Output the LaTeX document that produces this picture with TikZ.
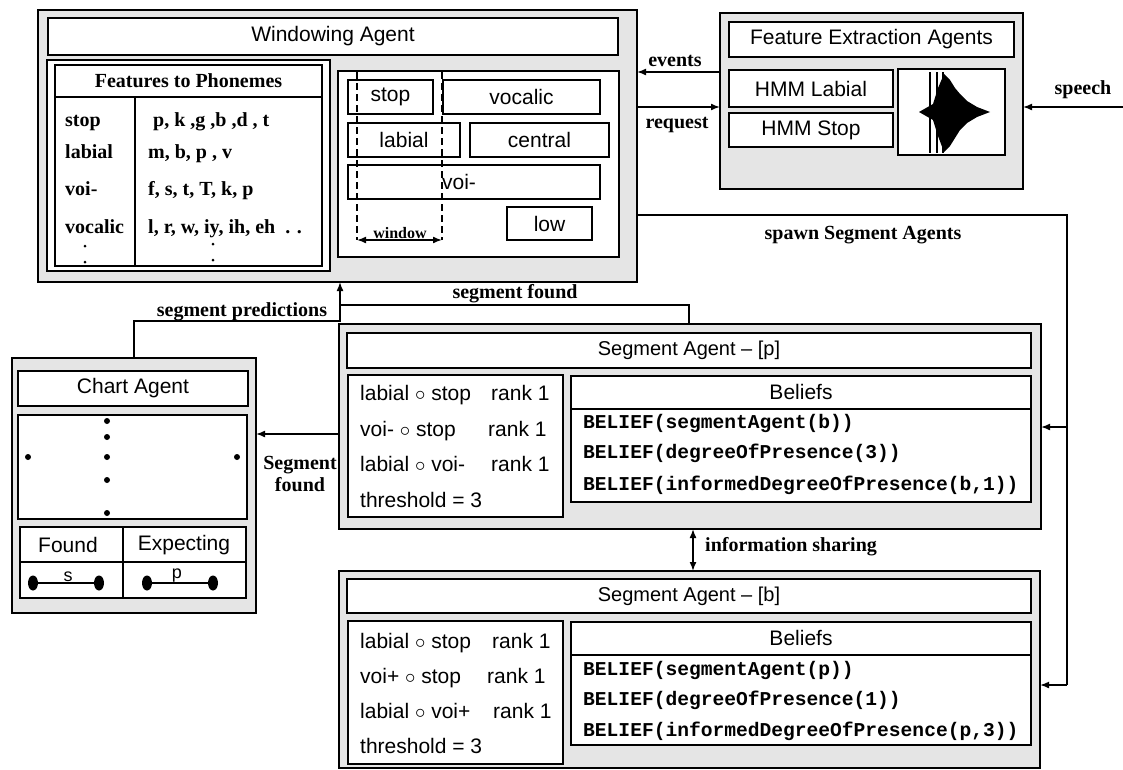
\documentclass[tikz,border=0pt]{standalone}
\usepackage{fontspec}
\setmainfont{Liberation Serif}
\setsansfont{Liberation Sans}
\setmonofont{Liberation Mono}
\usetikzlibrary{arrows.meta,calc,shapes.geometric}
\newcommand\mkbox[7][]{%
  \pgfmathsetmacro\mkbw{#5-#3}%
  \pgfmathsetmacro\mkbh{#6-#4}%
  \pgfmathsetmacro\mkbx{(#3+#5)/2}%
  \pgfmathsetmacro\mkby{(#4+#6)/2}%
  \node[rect,minimum width=\mkbw pt,minimum height=\mkbh pt,#1] (#2) at (\mkbx,\mkby) {#7};}
\tikzset{
 rect/.style={draw, line width=1.8pt, fill=white, inner sep=0pt, outer sep=0pt, font=\sffamily\fontsize{21}{24}\selectfont},
 outerbox/.style={line width=2.4pt, fill=black!10},
 sl/.style={font=\sffamily\fontsize{21}{24}\selectfont, inner sep=0pt},
 sr/.style={font=\rmfamily\bfseries\fontsize{20}{24}\selectfont, inner sep=0pt},
 bl/.style={font=\ttfamily\bfseries\fontsize{19.6}{24}\selectfont, inner sep=0pt, anchor=base west},
 conn/.style={line width=1.6pt},
 arr/.style={conn, -{Latex[length=9pt,width=7pt]}},
 arrb/.style={conn, {Latex[length=9pt,width=7pt]}-{Latex[length=9pt,width=7pt]}},
 dot/.style={circle, fill, inner sep=0pt, minimum size=6pt},
 oval/.style={ellipse, fill, inner sep=0pt, minimum width=10pt, minimum height=15pt},
}
\begin{document}
\begin{tikzpicture}[x=1pt,y=-1pt]
\useasboundingbox (0,0) rectangle (1123,769);

% ---------------- Windowing Agent
\mkbox[outerbox]{win}{38}{10}{637}{282}{}
\mkbox{wtitle}{48}{18}{618}{55}{Windowing Agent}
\mkbox[line width=1.2pt]{fout}{47}{60}{330}{271}{}
\mkbox{fin}{55}{65}{322}{266}{}
\coordinate (fhy) at (0,97);
\coordinate (fcx) at (135,0);
\draw[conn] (fin.west|-fhy) -- (fin.east|-fhy);
\draw[conn] (fcx|-fhy) -- (fcx|-fin.south);
\node[sr] (fhead) at (188.5,81) {Features to Phonemes};
\node[sr,anchor=base west] (fl1) at (65,126) {stop};
\node[sr,anchor=base west] (fl2) at (65,158) {labial};
\node[sr,anchor=base west] (fl3) at (65,195) {voi-};
\node[sr,anchor=base west] (fl4) at (65,233) {vocalic};
\node[sr,anchor=base west] (fr1) at (153,126) {p, k ,g ,b ,d , t};
\node[sr,anchor=base west] (fr2) at (148,158) {m, b, p , v};
\node[sr,anchor=base west] (fr3) at (148,195) {f, s, t, T, k, p};
\node[sr,anchor=base west] (fr4) at (148,233) {l, r, w, iy, ih, eh\enspace. .};
\node[dot,minimum size=3pt] (fd1) at (85,246) {};
\node[dot,minimum size=3pt] (fd2) at (85,262) {};
\node[dot,minimum size=3pt] (fd3) at (213,244) {};
\node[dot,minimum size=3pt] (fd4) at (213,260) {};

\mkbox{wpan}{338}{71}{619}{257}{}
\mkbox{wstop}{348}{80}{433}{114}{stop}
\mkbox{wvoc}{443}{80}{600}{114}{vocalic}
\mkbox{wlab}{348}{123}{460}{157}{labial}
\mkbox{wcen}{470}{123}{609}{157}{central}
\mkbox{wvoi}{348}{165}{600}{199}{}
\node[sl] (wvoit) at (459,182) {voi-};
\mkbox{wlow}{507}{207}{592}{240}{low}
\coordinate (wl) at (357,72);
\coordinate (wr) at (442,72);
\coordinate (wlb) at (357,240);
\coordinate (wrb) at (442,240);
\draw[conn, dash pattern=on 7pt off 4pt] (wl) -- (wlb);
\draw[conn, dash pattern=on 7pt off 4pt] (wr) -- (wrb);
\draw[arrb] (wlb) -- (wrb);
\node[inner sep=0pt, anchor=base, font=\rmfamily\bfseries\fontsize{16}{18}\selectfont] (wtxt) at (400,238) {window};

% ---------------- Feature Extraction
\mkbox[outerbox]{fea}{720}{13}{1023}{189}{}
\mkbox{ftitle}{729}{22}{1014}{57}{Feature Extraction Agents}
\mkbox{hmml}{729}{70}{893}{107}{HMM Labial}
\mkbox{hmms}{729}{113}{893}{147}{HMM Stop}
\mkbox{wave}{898}{69}{1005}{155}{}
\draw[line width=2.4pt] (930,72) -- (930,153) (937,72) -- (937,153) (943,72) -- (943,153);
\fill (919,112) -- (926,108) -- (933,104) -- (938,88) -- (944,74) -- (950,80) -- (955,88) -- (960,94) -- (967,101) -- (977,107) -- (990,112)
   -- (977,117) -- (967,123) -- (960,130) -- (955,138) -- (950,146) -- (944,152) -- (938,136) -- (933,120) -- (926,116) -- cycle;

% ---------------- Chart Agent
\mkbox[outerbox]{chart}{12}{358}{256}{613}{}
\mkbox{ctitle}{18}{371}{248}{406}{Chart Agent}
\mkbox{carea}{18}{415}{247}{519}{}
\node[dot] (cd1) at (107,421) {};
\node[dot] (cd2) at (107,437) {};
\node[dot] (cd3) at (107,457) {};
\node[dot] (cd4) at (107,480) {};
\node[dot] (cd5) at (107,513) {};
\node[dot] (cd6) at (28,457) {};
\node[dot] (cd7) at (237,457) {};
\mkbox{ctab}{20}{527}{246}{598}{}
\coordinate (ctx) at (123,0);
\coordinate (cty) at (0,562);
\draw[conn] (ctx|-ctab.north) -- (ctx|-ctab.south);
\draw[conn] (ctab.west|-cty) -- (ctab.east|-cty);
\node[sl] (cfound) at (68,545) {Found};
\node[sl] (cexp) at (184,545) {Expecting};
\node[oval] (fs1) at (33,583) {};
\node[oval] (fs2) at (99,583) {};
\draw[conn] (fs1) -- (fs2);
\node[sl, anchor=south, font=\sffamily\fontsize{18}{20}\selectfont] (fsl) at (68,582) {s};
\node[oval] (fe1) at (147,583) {};
\node[oval] (fe2) at (213,583) {};
\draw[conn] (fe1) -- (fe2);
\node[sl, anchor=south, font=\sffamily\fontsize{18}{20}\selectfont] (fel) at (177,582) {p};

% ---------------- Segment Agent [p]
\mkbox[outerbox]{segp}{339}{324}{1041}{529}{}
\mkbox[font=\sffamily\fontsize{20}{24}\selectfont]{sptitle}{347}{333}{1031}{368}{Segment Agent – [p]}
\mkbox{spleft}{348}{375}{563}{517}{}
\mkbox{spbel}{571}{376}{1031}{502}{}
\coordinate (sphy) at (0,409);
\draw[conn] (spbel.west|-sphy) -- (spbel.east|-sphy);
\node[sl] (spbh) at (801,392) {Beliefs};
\node[sl,anchor=base west] (spr1) at (360,400) {labial $\circ$ stop};
\node[sl,anchor=base west] (spr1r) at (491,400) {rank 1};
\node[sl,anchor=base west] (spr2) at (360,436) {voi- $\circ$ stop};
\node[sl,anchor=base west] (spr2r) at (488,436) {rank 1};
\node[sl,anchor=base west] (spr3) at (360,471) {labial $\circ$ voi-};
\node[sl,anchor=base west] (spr3r) at (491,471) {rank 1};
\node[sl,anchor=base west] (spr4) at (360,507) {threshold = 3};
\node[bl] (spb1) at (583,428) {BELIEF(segmentAgent(b))};
\node[bl] (spb2) at (583,458) {BELIEF(degreeOfPresence(3))};
\node[bl] (spb3) at (583,490) {BELIEF(informedDegreeOfPresence(b,1))};

% ---------------- Segment Agent [b]
\mkbox[outerbox]{segb}{339}{571}{1040}{768}{}
\mkbox[font=\sffamily\fontsize{20}{24}\selectfont]{sbtitle}{347}{579}{1031}{613}{Segment Agent – [b]}
\mkbox{sbleft}{348}{621}{563}{764}{}
\mkbox{sbbel}{571}{622}{1031}{745}{}
\coordinate (sbhy) at (0,655);
\draw[conn] (sbbel.west|-sbhy) -- (sbbel.east|-sbhy);
\node[sl] (sbbh) at (801,638) {Beliefs};
\node[sl,anchor=base west] (sbr1) at (360,648) {labial $\circ$ stop};
\node[sl,anchor=base west] (sbr1r) at (492,648) {rank 1};
\node[sl,anchor=base west] (sbr2) at (360,683) {voi+ $\circ$ stop};
\node[sl,anchor=base west] (sbr2r) at (487,683) {rank 1};
\node[sl,anchor=base west] (sbr3) at (360,718) {labial $\circ$ voi+};
\node[sl,anchor=base west] (sbr3r) at (493,718) {rank 1};
\node[sl,anchor=base west] (sbr4) at (360,753) {threshold = 3};
\node[bl] (sbb1) at (583,675) {BELIEF(segmentAgent(p))};
\node[bl] (sbb2) at (583,705) {BELIEF(degreeOfPresence(1))};
\node[bl] (sbb3) at (583,736) {BELIEF(informedDegreeOfPresence(p,3))};

% ---------------- Connectors
\coordinate (evy) at (0,72);
\draw[arr] (fea.west|-evy) -- (win.east|-evy);
\coordinate (rqy) at (0,107);
\draw[arr] (win.east|-rqy) -- (fea.west|-rqy);
\coordinate (spsrc) at (1123,107);
\draw[arr] (spsrc) -- (fea.east|-spsrc);
\coordinate (sw1) at (1067,215);
\coordinate (sw2) at (1067,685);
\coordinate (sw3) at (1067,427);
\draw[conn] (win.east|-sw1) -- (sw1) -- (sw2);
\draw[arr] (sw2) -- (segb.east|-sw2);
\draw[arr] (sw3) -- (segp.east|-sw3);
\coordinate (pj) at (340,321);
\draw[arr] (chart.north) |- (pj) -- (pj|-win.south);
\coordinate (sj) at (340,305);
\coordinate (sfx) at (689,0);
\draw[conn] (sfx|-segp.north) |- (sj);
\coordinate (sfy) at (0,434);
\draw[arr] (segp.west|-sfy) -- (chart.east|-sfy);
\coordinate (isx) at (693,0);
\draw[arrb] (isx|-segp.south) -- (isx|-segb.north);

% ---------------- Labels
\node[sr,anchor=base] (lev) at (675,66) {events};
\node[sr,anchor=base] (lrq) at (677,128) {request};
\node[sr,anchor=base] (lsp) at (1083,94) {speech};
\node[sr,anchor=base] (lspawn) at (863,239) {spawn Segment Agents};
\node[sr,anchor=base] (lsf) at (515,298) {segment found};
\node[sr,anchor=base] (lspr) at (242,316) {segment predictions};
\node[sr,anchor=base] (lsf1) at (300,469) {Segment};
\node[sr,anchor=base] (lsf2) at (300,491) {found};
\node[sr,anchor=base west] (lis) at (705,551) {information sharing};
\end{tikzpicture}
\end{document}
